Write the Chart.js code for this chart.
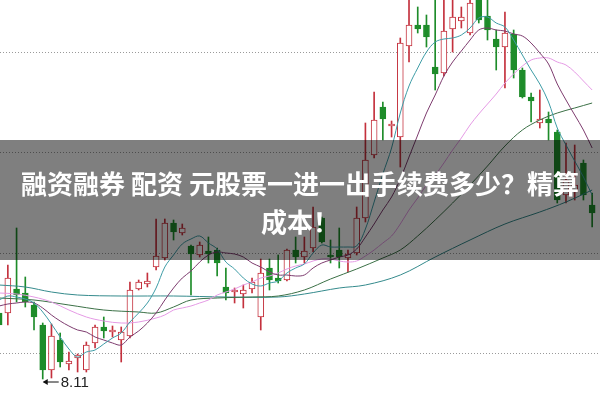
<!DOCTYPE html>
<html>
<head>
<meta charset="utf-8">
<script src="https://cdn.jsdelivr.net/npm/chart.js@4.4.0/dist/chart.umd.min.js"></script>
<style>
  html, body { margin: 0; padding: 0; background: #fff; }
  #wrap { width: 600px; height: 400px; }
</style>
</head>
<body>
<div id="wrap"><canvas id="chart" width="600" height="400"></canvas></div>
<script>
// daily candles (price)
const opens  = [8.77,8.77,9.01,8.97,8.85,8.65,8.20,8.50,8.26,8.32,8.20,8.47,8.63,8.58,8.50,8.54,9.01,9.06,9.23,9.32,
                9.67,9.57,9.44,9.35,9.39,9.40,9.03,8.98,8.96,9.01,8.73,9.22,9.12,9.10,9.40,9.33,9.42,9.72,9.35,9.40,
                9.32,9.37,9.72,10.35,10.83,10.64,10.53,11.44,11.65,11.65,11.23,11.17,11.61,11.69,11.57,11.95,11.74,11.51,11.43,11.56,
                11.20,10.93,10.67,10.71,10.58,9.95,9.98,10.27,9.85];
const highs  = [8.82,9.25,9.62,9.13,8.88,8.67,8.66,8.57,8.38,8.36,8.48,8.65,8.73,8.64,8.63,9.08,9.10,9.17,9.71,9.71,
                9.70,9.66,9.45,9.48,9.53,9.42,9.22,9.02,9.05,9.12,9.31,9.31,9.35,9.41,9.53,9.53,9.83,9.73,9.50,9.62,
                9.40,9.83,10.67,10.98,10.88,10.69,11.52,11.95,11.83,11.75,12.00,11.95,11.95,11.83,11.92,12.00,11.93,11.60,11.78,11.60,
                11.22,10.97,11.00,10.78,10.60,10.47,10.45,10.30,9.97];
const lows   = [8.62,8.65,8.88,8.83,8.60,8.11,8.12,8.23,8.20,8.18,8.18,8.42,8.52,8.53,8.28,8.52,9.00,9.03,9.20,9.30,
                9.50,9.55,8.95,9.33,9.27,9.14,8.90,8.87,8.82,8.97,8.60,9.00,9.07,9.09,9.27,9.27,9.38,9.47,9.27,9.22,
                9.18,9.35,9.68,10.32,10.50,10.53,10.23,11.28,11.57,11.43,11.00,11.14,11.38,11.62,11.55,11.67,11.50,11.20,11.02,11.12,
                10.92,10.68,10.62,10.50,9.87,9.87,9.90,9.90,9.63];
const closes = [8.65,9.12,8.95,8.88,8.73,8.20,8.54,8.28,8.29,8.35,8.45,8.63,8.59,8.60,8.58,9.00,9.08,9.09,9.34,9.67,
                9.58,9.62,9.36,9.45,9.36,9.27,8.97,9.00,9.00,9.08,9.17,9.10,9.09,9.40,9.33,9.39,9.63,9.48,9.33,9.33,
                9.36,9.72,10.30,10.70,10.71,10.66,11.47,11.65,11.61,11.53,11.16,11.59,11.73,11.73,11.87,11.70,11.60,11.43,11.57,11.20,
                10.93,10.89,10.71,10.67,9.90,10.10,10.05,9.95,9.77];

// moving average lines as they appear on the picture
const ma5  = [8.90,8.94,8.93,8.91,8.87,8.78,8.66,8.53,8.41,8.33,8.38,8.40,8.46,8.52,8.57,8.68,8.77,8.87,9.02,9.23,
              9.35,9.46,9.51,9.54,9.47,9.41,9.28,9.21,9.12,9.06,9.04,9.07,9.09,9.17,9.22,9.26,9.37,9.45,9.43,9.43,
              9.43,9.44,9.61,9.88,10.16,10.42,10.77,11.04,11.22,11.38,11.48,11.51,11.52,11.55,11.62,11.72,11.73,11.67,11.63,11.50,
              11.35,11.20,11.06,10.88,10.62,10.45,10.29,10.13,9.95];
const ma10 = [8.84,8.86,8.87,8.88,8.87,8.82,8.75,8.69,8.64,8.60,8.58,8.53,8.50,8.47,8.45,8.53,8.59,8.67,8.77,8.90,
              9.02,9.12,9.19,9.28,9.35,9.38,9.37,9.36,9.33,9.27,9.23,9.18,9.15,9.15,9.14,9.15,9.22,9.27,9.30,9.33,
              9.35,9.41,9.53,9.66,9.80,9.93,10.11,10.33,10.55,10.77,10.95,11.14,11.28,11.39,11.50,11.60,11.62,11.60,11.59,11.56,
              11.54,11.47,11.37,11.26,11.06,10.90,10.75,10.60,10.42];
const ma20 = [8.97,null,8.96,null,8.93,null,8.88,null,8.80,null,8.73,null,8.69,null,8.67,null,8.68,null,8.72,8.75,
              8.80,8.82,8.84,8.87,8.90,8.95,8.98,9.01,9.05,9.08,9.12,9.14,9.17,9.21,9.24,9.26,9.29,9.31,9.31,9.29,
              9.28,9.29,9.34,9.40,9.47,9.54,9.66,9.80,9.92,10.05,10.15,10.27,10.40,10.52,10.65,10.76,10.86,10.96,11.07,11.16,
              11.24,11.30,11.32,11.32,11.28,11.25,11.18,11.09,11.00];
const ma30Idx = [0,4,8,12,16,18,20,22,25,29,32,35,38,41,44,46,48,50,52,54,56,58,60,62,64,66,68];
const ma30    = [8.92,8.90,8.85,8.80,8.78,8.77,8.83,8.90,8.92,8.93,8.94,9.00,9.11,9.21,9.32,9.40,9.54,9.70,9.87,10.05,10.24,10.44,10.60,10.70,10.77,10.82,10.87];
const ma60Idx = [0,3,6,9,14,20,26,32,35,39,42,46,50,54,58,62,65,68];
const ma60    = [9.05,9.03,8.98,8.95,8.94,8.94,8.93,8.93,8.96,9.02,9.05,9.15,9.33,9.50,9.66,9.78,9.88,10.00];

const gridLevels = [8.37, 9.37, 10.38, 11.38];
const lowMark = { index: 5, price: 8.11, label: '8.11' };
const titleLines = ['融资融券 配资 元股票一进一出手续费多少？精算', '成本！'];

const RED = '#c4313d';
const GREEN = '#1e8c2a';

const isUp = closes.map((c, i) => c >= opens[i]);

const wickData = highs.map((h, i) => ({ x: i, y: [lows[i], h] }));
const bodyData = opens.map((o, i) => ({ x: i, y: [o, closes[i]] }));

function series(values, idx) {
	return values.map((v, i) => ({ x: idx ? idx[i] : i, y: v }));
}

function lineSet(data, color) {
	return {
		type: 'line',
		data: data,
		borderColor: color,
		borderWidth: 1,
		pointRadius: 0,
		tension: 0.35,
		spanGaps: true,
		order: 1
	};
}

const gridPlugin = {
	id: 'dotGrid',
	beforeDatasetsDraw(chart) {
		const { ctx, chartArea, scales } = chart;
		ctx.save();
		ctx.strokeStyle = '#9a9a9a';
		ctx.lineWidth = 1;
		ctx.setLineDash([1, 2]);
		gridLevels.forEach((v) => {
			const y = Math.round(scales.y.getPixelForValue(v)) + 0.5;
			ctx.beginPath();
			ctx.moveTo(chartArea.left, y);
			ctx.lineTo(chartArea.right, y);
			ctx.stroke();
		});
		ctx.restore();
	}
};

const overlayPlugin = {
	id: 'overlay',
	afterDraw(chart) {
		const { ctx, scales } = chart;
		ctx.save();

		// lowest price marker
		const lx = scales.x.getPixelForValue(lowMark.index);
		const ly = scales.y.getPixelForValue(lowMark.price) + 3;
		ctx.strokeStyle = '#111';
		ctx.fillStyle = '#111';
		ctx.lineWidth = 1;
		ctx.beginPath();
		ctx.moveTo(lx + 1, ly);
		ctx.lineTo(lx + 16, ly);
		ctx.stroke();
		ctx.beginPath();
		ctx.moveTo(lx, ly);
		ctx.lineTo(lx + 5, ly - 3);
		ctx.lineTo(lx + 5, ly + 3);
		ctx.closePath();
		ctx.fill();
		ctx.font = '15px "Liberation Sans", Arial, sans-serif';
		ctx.fillStyle = '#222';
		ctx.textBaseline = 'middle';
		ctx.textAlign = 'left';
		ctx.fillText(lowMark.label, lx + 18, ly + 1);

		// title band
		ctx.fillStyle = 'rgba(0,0,0,0.5)';
		ctx.fillRect(0, 140, 600, 120);
		ctx.fillStyle = '#fff';
		ctx.textAlign = 'center';
		ctx.font = 'bold 26px "Noto Sans CJK SC", sans-serif';
		ctx.fillText(titleLines[0], 300, 184);
		ctx.fillText(titleLines[1], 300, 222);
		ctx.restore();
	}
};

new Chart(document.getElementById('chart'), {
	type: 'bar',
	data: {
		datasets: [
			lineSet(series(ma5), '#3e9ca6'),
			lineSet(series(ma10), '#7d3b6e'),
			lineSet(series(ma20), '#e59ae5'),
			lineSet(series(ma30, ma30Idx), '#3b7046'),
			lineSet(series(ma60, ma60Idx), '#348a8c'),
			{
				data: bodyData,
				backgroundColor: isUp.map((u) => (u ? '#ffffff' : GREEN)),
				borderColor: isUp.map((u) => (u ? RED : GREEN)),
				borderWidth: 1,
				borderSkipped: false,
				barThickness: 6,
				grouped: false,
				order: 2
			},
			{
				data: wickData,
				backgroundColor: isUp.map((u) => (u ? RED : GREEN)),
				borderWidth: 0,
				barThickness: 1,
				grouped: false,
				order: 3
			}
		]
	},
	options: {
		responsive: false,
		animation: false,
		layout: { padding: 0 },
		plugins: { legend: { display: false }, tooltip: { enabled: false } },
		scales: {
			x: { type: 'linear', min: 0.1, max: 68.9, offset: false, display: false },
			y: { min: 7.9, max: 11.9, display: false }
		}
	},
	plugins: [gridPlugin, overlayPlugin]
});
</script>
</body>
</html>
